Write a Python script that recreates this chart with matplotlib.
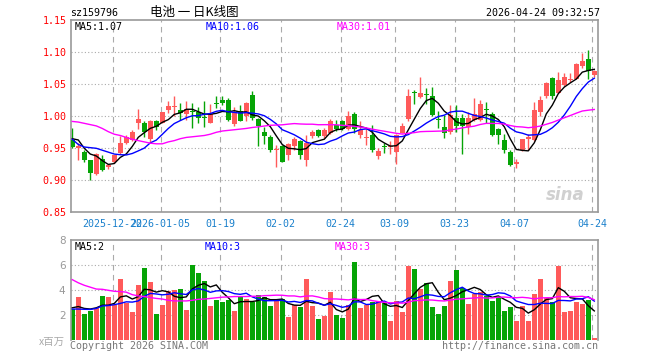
import numpy as np
import pandas as pd
import matplotlib
matplotlib.use("Agg")
import matplotlib.pyplot as plt

W, H = 660, 360

# daily K-line, 88 trading days (OHLC)
opens = [0.963, 0.951, 0.944, 0.932, 0.910, 0.933, 0.921, 0.929, 0.942, 0.959,
         0.963, 0.990, 0.989, 0.965, 0.993, 0.990, 1.010, 1.015, 1.010, 1.003,
         1.007, 1.007, 0.998, 0.990, 1.021, 1.026, 1.026, 0.988, 1.008, 1.000,
         1.033, 0.996, 0.976, 0.968, 0.947, 0.953, 0.939, 0.954, 0.961, 0.932,
         0.969, 0.978, 0.969, 0.974, 0.986, 0.993, 0.980, 1.004, 0.971, 0.966,
         0.971, 0.938, 0.953, 0.952, 0.945, 0.974, 0.996, 1.037, 1.030, 1.035,
         1.032, 0.995, 0.984, 0.976, 0.997, 0.997, 0.984, 0.994, 0.994, 1.011,
         1.004, 0.980, 0.963, 0.945, 0.925, 0.947, 0.964, 0.963, 1.007, 1.031,
         1.060, 1.037, 1.049, 1.056, 1.059, 1.078, 1.089, 1.064]
highs = [0.982, 0.958, 0.947, 0.932, 0.942, 0.940, 0.926, 0.940, 0.970, 0.971,
         0.979, 1.011, 0.993, 0.994, 0.995, 1.007, 1.024, 1.032, 1.021, 1.024,
         1.021, 1.015, 1.024, 1.019, 1.032, 1.032, 1.029, 1.015, 1.018, 1.023,
         1.039, 0.998, 0.983, 0.971, 0.955, 0.955, 0.958, 0.968, 0.963, 0.971,
         0.978, 0.980, 0.981, 0.996, 0.995, 0.995, 1.008, 1.007, 0.993, 0.980,
         0.987, 0.951, 0.958, 0.961, 0.972, 0.990, 1.042, 1.041, 1.061, 1.045,
         1.046, 1.008, 1.002, 1.018, 1.018, 1.004, 1.007, 1.028, 1.026, 1.023,
         1.007, 0.982, 0.973, 0.947, 0.933, 0.964, 0.972, 1.023, 1.032, 1.054,
         1.062, 1.069, 1.067, 1.068, 1.083, 1.099, 1.103, 1.073]
lows = [0.950, 0.932, 0.928, 0.900, 0.908, 0.915, 0.917, 0.927, 0.941, 0.956,
        0.962, 0.980, 0.968, 0.960, 0.978, 0.989, 1.005, 1.001, 0.994, 0.995,
        0.981, 0.989, 0.984, 0.989, 1.013, 1.017, 0.993, 0.985, 0.992, 0.992,
        0.995, 0.953, 0.957, 0.945, 0.921, 0.928, 0.931, 0.947, 0.933, 0.922,
        0.966, 0.967, 0.966, 0.972, 0.977, 0.978, 0.978, 0.974, 0.966, 0.955,
        0.944, 0.934, 0.942, 0.941, 0.926, 0.974, 0.992, 1.020, 1.029, 1.020,
        1.000, 0.981, 0.966, 0.973, 0.976, 0.941, 0.972, 0.992, 0.992, 0.990,
        0.969, 0.957, 0.942, 0.922, 0.919, 0.946, 0.947, 0.962, 1.000, 1.028,
        1.027, 1.036, 1.048, 1.053, 1.058, 1.075, 1.059, 1.061]
closes = [0.952, 0.954, 0.932, 0.911, 0.941, 0.916, 0.924, 0.939, 0.959, 0.968,
          0.975, 0.995, 0.975, 0.993, 0.984, 1.006, 1.016, 1.016, 1.005, 1.012,
          1.006, 0.997, 0.997, 1.004, 1.019, 1.021, 0.994, 1.006, 0.993, 1.021,
          0.997, 0.985, 0.969, 0.947, 0.949, 0.929, 0.956, 0.965, 0.940, 0.958,
          0.975, 0.970, 0.978, 0.992, 0.980, 0.980, 1.001, 0.980, 0.979, 0.968,
          0.947, 0.946, 0.952, 0.954, 0.971, 0.985, 1.032, 1.036, 1.037, 1.033,
          1.002, 0.994, 0.974, 1.002, 0.985, 0.985, 0.998, 1.004, 1.019, 1.010,
          0.971, 0.971, 0.947, 0.924, 0.928, 0.964, 0.967, 1.010, 1.026, 1.052,
          1.032, 1.057, 1.061, 1.059, 1.082, 1.086, 1.070, 1.070]
# volume, millions
volumes = [2.51, 3.47, 2.11, 2.35, 2.56, 3.55, 3.47, 2.83, 4.93, 3.01,
           2.27, 4.43, 5.79, 4.67, 2.11, 2.85, 3.95, 4.03, 4.11, 2.43,
           6.03, 5.39, 4.75, 2.75, 3.23, 3.07, 3.23, 2.35, 3.55, 3.31,
           3.07, 3.63, 3.49, 2.75, 3.31, 3.31, 1.87, 2.83, 2.67, 4.93,
           2.75, 1.71, 1.95, 3.87, 2.03, 1.79, 2.83, 6.27, 2.59, 2.83,
           3.07, 3.15, 2.99, 1.55, 3.15, 2.27, 5.95, 5.71, 4.11, 4.59,
           2.67, 2.11, 2.75, 4.75, 5.63, 4.19, 2.91, 3.71, 3.87, 3.55,
           3.15, 3.47, 2.35, 2.67, 1.55, 2.75, 1.55, 3.71, 4.93, 3.39,
           3.07, 5.95, 2.27, 2.35, 3.07, 2.91, 3.23, 0.19]

# moving-average values before the window fills
ma5_head = [0.965, 0.963, 0.950, 0.941]
ma10_head = [0.964, 0.956, 0.952, 0.951, 0.950, 0.947, 0.944, 0.941, 0.940]
ma30_head = [0.992, 0.991, 0.989, 0.987, 0.985, 0.981, 0.976, 0.972, 0.970, 0.967,
             0.964, 0.962, 0.960, 0.958, 0.957, 0.957, 0.960, 0.962, 0.965, 0.967,
             0.968, 0.969, 0.970, 0.972, 0.975, 0.977, 0.978, 0.979, 0.980]
vma5_head = [2.6, 2.7, 2.55, 2.5]
vma10_head = [2.5, 2.5, 2.48, 2.47, 2.55, 2.75, 2.78, 2.85, 2.95]
vma30_head = [4.85, 4.6, 4.4, 4.25, 4.1, 4.08, 4.0, 3.92, 3.9, 3.85,
              3.65, 3.55, 3.5, 3.42, 3.35, 3.3, 3.2, 3.15, 3.15, 3.15,
              3.2, 3.28, 3.3, 3.35, 3.4, 3.45, 3.47, 3.5, 3.5]

date_idx = [7, 15, 25, 35, 45, 54, 64, 74, 87]
date_labels = ["2025-12-22", "2026-01-05", "01-19", "02-02", "02-24",
               "03-09", "03-23", "04-07", "04-24"]
price_ticks = [0.85, 0.90, 0.95, 1.00, 1.05, 1.10, 1.15]
vol_ticks = [2, 4, 6, 8]

RED = "#ff5a5a"
GREEN = "#06a406"
GRID = "#aaaaaa"
MONO = "DejaVu Sans Mono"


def moving(values, n, head):
    s = pd.Series(values).rolling(n).mean().to_numpy()
    s[:len(head)] = head
    return s


o = np.array(opens)
c = np.array(closes)
x = np.arange(len(c))
up = c >= o
cols = np.where(up, RED, GREEN)

fig = plt.figure(figsize=(6.6, 3.6), dpi=100)
left, right = 71, 597.5
ax = fig.add_axes([left / W, 1 - 212.3 / H, (right - left) / W, 192 / H])
axv = fig.add_axes([left / W, 1 - 340.3 / H, (right - left) / W, 100 / H])
xlim = ((left - 72.3) / 6, (right - 72.3) / 6)

# price panel
for v in price_ticks[1:-1]:
    ax.axhline(v, color=GRID, ls=(0, (1, 2)), lw=0.8, zorder=0)
for i in date_idx:
    ax.axvline(i - 0.3, color=GRID, ls=(0, (5, 4)), lw=0.8, zorder=0)
    axv.axvline(i - 0.3, color=GRID, ls=(0, (5, 4)), lw=0.8, zorder=0)

ax.vlines(x, lows, highs, colors=cols, lw=1, zorder=2)
ax.bar(x, np.maximum(np.abs(c - o), 0.0017), bottom=np.minimum(o, c),
       width=0.8, color=cols, linewidth=0, zorder=3)
ax.plot(x, moving(closes, 5, ma5_head), color="black", lw=1, zorder=4)
ax.plot(x, moving(closes, 10, ma10_head), color="blue", lw=1, zorder=4)
ax.plot(x, moving(closes, 30, ma30_head), color="magenta", lw=1, zorder=4)

ax.set_xlim(*xlim)
ax.set_ylim(0.85, 1.15)
ax.set_yticks(price_ticks)
ax.set_yticklabels(["%.2f" % v for v in price_ticks], color="red",
                   fontfamily=MONO, fontsize=7.2)
ax.set_xticks([i - 0.3 for i in date_idx])
ax.set_xticklabels(date_labels, color="#1a80cc", fontfamily=MONO, fontsize=7.2)
ax.tick_params(length=0, pad=3)
ax.tick_params(axis="x", pad=5)
for sp in ax.spines.values():
    sp.set_color("#999999")
    sp.set_linewidth(1.2)

ax.text(0.975, 0.09, "sina", transform=ax.transAxes, ha="right", va="center",
        fontsize=12, fontweight="bold", style="italic", color="#d0d0d0")

# volume panel
for v in vol_ticks[:-1]:
    axv.axhline(v, color=GRID, ls=(0, (1, 2)), lw=0.8, zorder=0)
axv.bar(x, volumes, width=0.8, color=cols, linewidth=0, zorder=2)
axv.plot(x, moving(volumes, 5, vma5_head), color="black", lw=1, zorder=4)
axv.plot(x, moving(volumes, 10, vma10_head), color="blue", lw=1, zorder=4)
axv.plot(x, moving(volumes, 30, vma30_head), color="magenta", lw=1, zorder=4)
axv.set_xlim(*xlim)
axv.set_ylim(0, 8)
axv.set_xticks([])
axv.set_yticks(vol_ticks)
axv.set_yticklabels([str(v) for v in vol_ticks], color="#999999", fontsize=7.5)
axv.tick_params(length=0, pad=4)
for name, sp in axv.spines.items():
    sp.set_color("#999999")
    sp.set_linewidth(1.2)
axv.spines["bottom"].set_visible(False)


def ftext(px, py, s, **kw):
    kw.setdefault("va", "center")
    kw.setdefault("fontfamily", MONO)
    kw.setdefault("fontsize", 7.2)
    fig.text(px / W, 1 - py / H, s, **kw)


ftext(70, 13, "sz159796")
ftext(150, 12.5, "电池 一 日K线图", fontfamily=["Noto Sans CJK SC", "DejaVu Sans"],
      fontsize=9)
ftext(600, 13, "2026-04-24 09:32:57", ha="right")
ftext(75, 26.5, "MA5:1.07", color="black")
ftext(206, 26.5, "MA10:1.06", color="blue")
ftext(337, 26.5, "MA30:1.01", color="magenta")
ftext(75, 247, "MA5:2", color="black")
ftext(205, 247, "MA10:3", color="blue")
ftext(335, 247, "MA30:3", color="magenta")
ftext(65, 341.5, "x百万", ha="right", color="#aaaaaa",
      fontfamily=["Noto Sans CJK SC", "DejaVu Sans"], fontsize=7.5)
ftext(70, 346, "Copyright 2026 SINA.COM", color="#777777")
ftext(598, 346, "http://finance.sina.com.cn", ha="right", color="#777777")

fig.savefig("out.png", dpi=100)
